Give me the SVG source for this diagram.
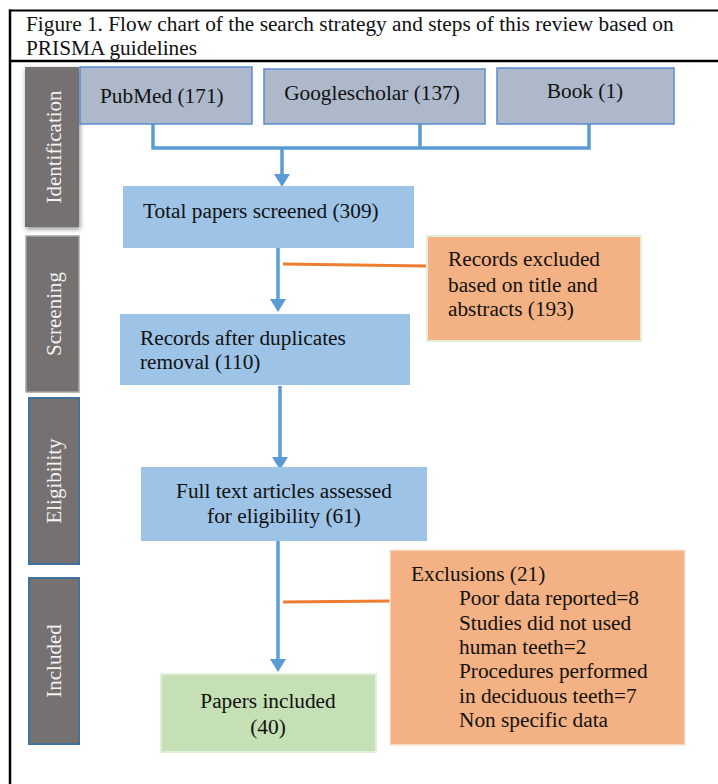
<svg xmlns="http://www.w3.org/2000/svg" width="718" height="784" viewBox="0 0 718 784">
<defs>
<style>
text{font-family:"Liberation Serif","Times New Roman",serif;fill:#111;}
.t{font-size:21.3px;}
.b{font-size:21.3px;}
.side{font-size:21px;fill:#f2f2f2;text-anchor:middle;}
.src{fill:#adb9ca;stroke:#5b8bd0;stroke-width:1.5;}
.step{fill:#9dc3e6;}
.excl{fill:#f4b183;}
.lab{fill:#767171;}
.flow{fill:none;stroke:#5b9bd5;stroke-width:3.5;}
.cut{fill:none;stroke:#ed7d31;stroke-width:3;}
</style>
<marker id="ah" markerUnits="userSpaceOnUse" markerWidth="14" markerHeight="17" refX="2" refY="8" orient="auto">
<path d="M0,0 L13,8 L0,16 z" fill="#5b9bd5"/>
</marker>
<filter id="sh" x="-30%" y="-10%" width="160%" height="120%">
<feDropShadow dx="1" dy="2" stdDeviation="2.5" flood-color="#000" flood-opacity="0.45"/>
</filter>
</defs>
<rect width="718" height="784" fill="#fff"/>
<g id="frame" fill="none" stroke="#000">
<line x1="9" y1="10.5" x2="718" y2="10.5" stroke-width="2"/>
<line x1="9" y1="61" x2="718" y2="61" stroke-width="2.5"/>
<line x1="10" y1="9.5" x2="10" y2="784" stroke-width="2.5"/>
</g>
<g id="title">
<text class="t" x="26" y="31">Figure 1. Flow chart of the search strategy and steps of this review based on</text>
<text class="t" x="26" y="54.8">PRISMA guidelines</text>
</g>
<g id="lab-identification">
<rect class="lab" x="25" y="67" width="54" height="160" filter="url(#sh)"/>
<text class="side" transform="translate(61,147) rotate(-90)">Identification</text>
</g>
<g id="lab-screening">
<rect class="lab" x="26" y="236" width="53" height="156" stroke="#a5a5a5" stroke-width="1.5"/>
<text class="side" transform="translate(61,314) rotate(-90)">Screening</text>
</g>
<g id="lab-eligibility">
<rect class="lab" x="29" y="398" width="50" height="166" stroke="#41719c" stroke-width="2"/>
<text class="side" transform="translate(61,481) rotate(-90)">Eligibility</text>
</g>
<g id="lab-included">
<rect class="lab" x="29" y="578" width="50" height="166" stroke="#41719c" stroke-width="2"/>
<text class="side" transform="translate(61,661) rotate(-90)">Included</text>
</g>
<g id="connectors">
<path class="flow" d="M153,124 V148 H589 V122"/>
<path class="flow" d="M420,124 V148"/>
<path class="flow" d="M282,148 V176" marker-end="url(#ah)"/>
<path class="flow" d="M278,248 V301" marker-end="url(#ah)"/>
<path class="flow" d="M280,386 V459" marker-end="url(#ah)"/>
<path class="flow" d="M278,541 V661" marker-end="url(#ah)"/>
<path class="cut" d="M283,264 L427,266"/>
<path class="cut" d="M283,602 L391,601"/>
</g>
<g id="pubmed">
<rect class="src" x="80" y="67" width="172" height="57"/>
<text class="b" x="100" y="103">PubMed (171)</text>
</g>
<g id="googlescholar">
<rect class="src" x="264" y="69" width="221" height="55"/>
<text class="b" x="372" y="100" text-anchor="middle">Googlescholar (137)</text>
</g>
<g id="book">
<rect class="src" x="497" y="68" width="177" height="56"/>
<text class="b" x="585" y="98" text-anchor="middle">Book (1)</text>
</g>
<g id="total">
<rect class="step" x="123" y="186" width="291" height="62"/>
<text class="b" x="143" y="218">Total papers screened (309)</text>
</g>
<g id="excluded1">
<rect class="excl" x="427" y="236" width="214" height="105" stroke="#e2f0d9" stroke-width="2"/>
<text class="b" x="448" y="266">Records excluded</text>
<text class="b" x="448" y="292">based on title and</text>
<text class="b" x="448" y="316">abstracts (193)</text>
</g>
<g id="dedup">
<rect class="step" x="120" y="314" width="290" height="71"/>
<text class="b" x="140" y="345">Records after duplicates</text>
<text class="b" x="140" y="369">removal (110)</text>
</g>
<g id="fulltext">
<rect class="step" x="141" y="467" width="286" height="74"/>
<text class="b" x="284" y="498" text-anchor="middle">Full text articles assessed</text>
<text class="b" x="284" y="523" text-anchor="middle">for eligibility (61)</text>
</g>
<g id="exclusions">
<rect class="excl" x="390" y="550" width="295" height="195" stroke="#fbe5d6" stroke-width="1.5"/>
<text class="b" x="411" y="581">Exclusions (21)</text>
<text class="b" x="459" y="605">Poor data reported=8</text>
<text class="b" x="459" y="630">Studies did not used</text>
<text class="b" x="459" y="654">human teeth=2</text>
<text class="b" x="459" y="678">Procedures performed</text>
<text class="b" x="459" y="703">in deciduous teeth=7</text>
<text class="b" x="459" y="727">Non specific data</text>
</g>
<g id="included">
<rect x="161" y="674" width="215" height="78" fill="#c5e0b4" stroke="#e2f0d9" stroke-width="2"/>
<text class="b" x="268" y="708" text-anchor="middle">Papers included</text>
<text class="b" x="268" y="734" text-anchor="middle">(40)</text>
</g>
</svg>
